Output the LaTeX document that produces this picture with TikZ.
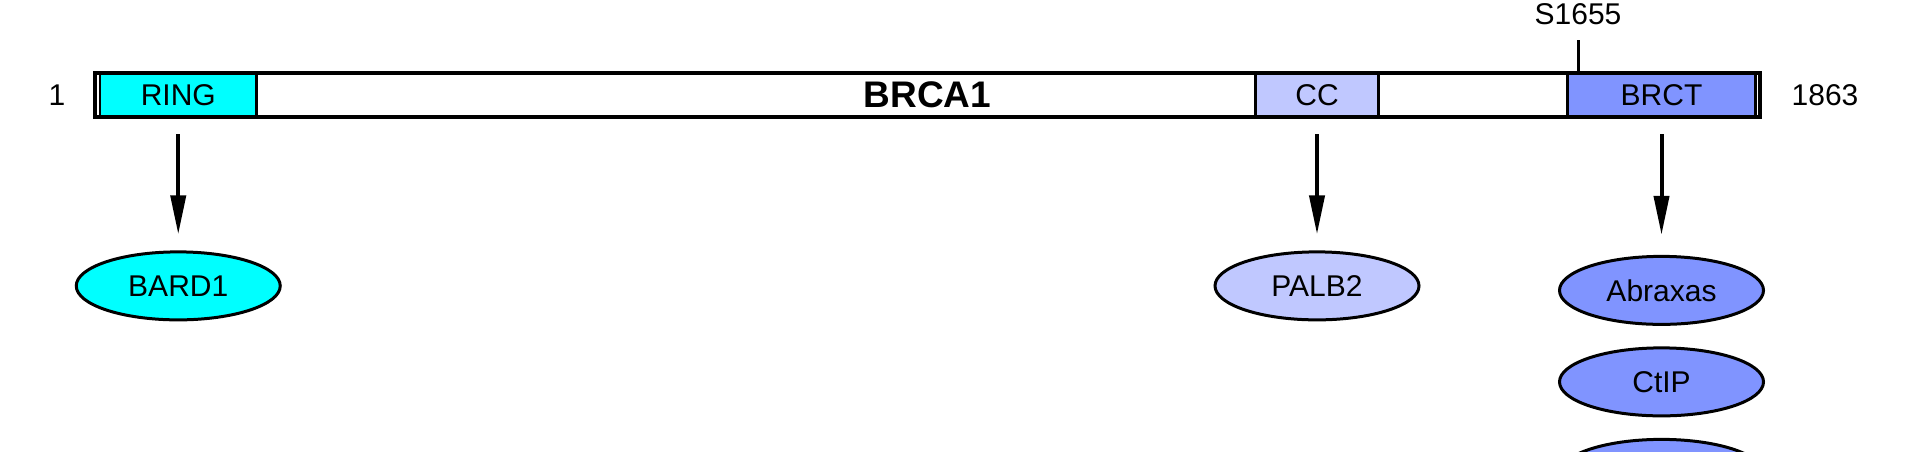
\documentclass[tikz,border=0pt]{standalone}
\usepackage{fontspec}
\setmainfont{Liberation Sans}
\usetikzlibrary{positioning,shapes.geometric,arrows.meta}

\definecolor{ringcyan}{RGB}{0,255,255}
\definecolor{cclight}{RGB}{192,200,255}
\definecolor{brctblue}{RGB}{128,148,255}

\tikzset{
  domainbox/.style = {draw, line width=2.75pt, minimum height=44pt, inner sep=0pt, font=\fontsize{30}{36}\selectfont},
  partner/.style = {draw, ellipse, line width=3pt, minimum width=204pt, minimum height=68pt, inner sep=0pt, font=\fontsize{30}{36}\selectfont},
  bind/.style = {line width=4pt, -{Triangle[length=39pt,width=15pt]}, shorten <=16pt, shorten >=16pt},
  reslabel/.style = {inner sep=0pt, font=\fontsize{30}{36}\selectfont}
}

\begin{document}
\begin{tikzpicture}[x=1pt, y=-1pt]
	\useasboundingbox (0,0) rectangle (1920,451);
	\clip (0,0) rectangle (1920,451);
	% domains
	\node[domainbox, fill=ringcyan, minimum width=156.5pt] (ring) at (178.25,95) {RING};
	\node[domainbox, fill=cclight, minimum width=123pt] (cc) at (1317,95) {CC};
	\node[domainbox, fill=brctblue, minimum width=188pt] (brct) at (1661.5,95) {BRCT};
	\node[draw, line width=3.75pt, minimum width=1665pt, minimum height=44pt, inner sep=0pt, font=\fontsize{37}{44}\selectfont\bfseries] (brca) at (927.5,95) {BRCA1};
	\node[reslabel] (first) at (57,95) {1};
	\node[reslabel] (last) at (1825,95) {1863};
	% phospho site
	\coordinate (s1655) at (1578,73);
	\draw[line width=3pt] (s1655) -- ++(0,-33) node[reslabel, above=14pt] {S1655};
	% partners
	\node[partner, fill=ringcyan, below=132pt of ring] (bard) {BARD1};
	\node[partner, fill=cclight, below=132pt of cc] (palb) {PALB2};
	\node[partner, fill=brctblue, below=136.5pt of brct] (abraxas) {Abraxas};
	\node[partner, fill=brctblue, below=20.5pt of abraxas] (ctip) {CtIP};
	\node[partner, fill=brctblue, below=20.5pt of ctip] (brctnext) {};
	\draw[bind] (ring) -- (bard);
	\draw[bind] (cc) -- (palb);
	\draw[bind, shorten >=20pt] (brct) -- (abraxas);
\end{tikzpicture}
\end{document}
